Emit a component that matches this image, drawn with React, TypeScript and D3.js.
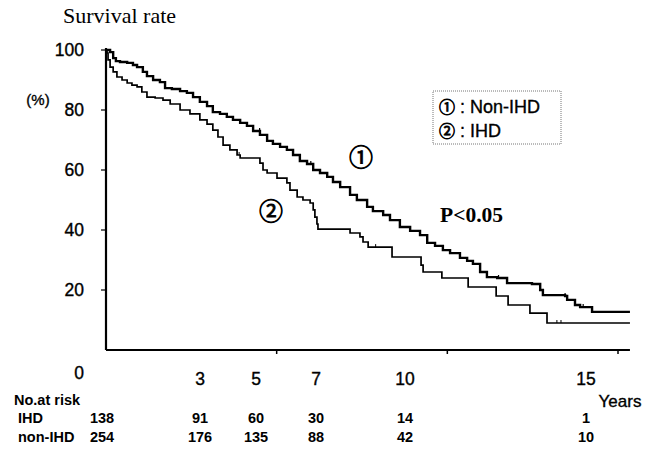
import React from "react";
import * as d3 from "d3";

// Kaplan–Meier step points (years, survival %)
const nonIhdTimes = [0, 0.12, 0.21, 0.29, 0.41, 0.62, 0.79, 0.91, 1.08, 1.2, 1.38, 1.58, 1.73, 1.93, 2.17, 2.37, 2.55, 2.75, 2.96, 3.13, 3.34, 3.54, 3.72, 3.93, 4.13, 4.31, 4.51, 4.72, 4.89, 5.1, 5.3, 5.48, 5.68, 5.89, 6.07, 6.27, 6.48, 6.65, 6.86, 7.15, 7.35, 7.65, 7.82, 8.12, 8.32, 8.61, 8.91, 9.2, 9.41, 9.64, 9.87, 10.08, 10.37, 10.58, 10.75, 10.96, 11.16, 11.46, 11.75, 12.48, 12.72, 12.8, 13.45, 13.51, 13.74, 13.89, 14.24, 15.35];
const nonIhdSurv = [100, 99.3, 97.3, 96.3, 96, 95.7, 95, 94.3, 92.7, 91.3, 90, 89.3, 87.3, 87, 86.3, 85.7, 84.3, 82.7, 81.3, 79.3, 78.7, 77.7, 76.7, 75.7, 74.7, 73, 71.7, 69.7, 68.7, 67.7, 66.7, 65, 63, 62, 60, 59, 57.7, 56, 54.3, 51.7, 50, 47.7, 46.3, 45, 43.3, 41, 39.7, 38.3, 35.7, 34.7, 33.3, 32.3, 30.7, 29.7, 28.7, 26, 24.3, 24, 22.3, 22, 20, 18.3, 18, 16.7, 15, 14.3, 12.7, 12.7];

const ihdTimes = [0, 0.03, 0.06, 0.12, 0.21, 0.32, 0.47, 0.62, 0.76, 0.91, 1.05, 1.2, 1.44, 1.67, 1.88, 2.17, 2.46, 2.75, 2.96, 3.13, 3.28, 3.43, 3.63, 3.84, 3.93, 4.51, 4.6, 4.72, 5.01, 5.3, 5.39, 5.6, 5.77, 5.98, 6.07, 6.12, 6.18, 6.21, 7.15, 7.44, 7.53, 7.68, 8.38, 9.23, 9.29, 9.84, 10.61, 11.43, 11.78, 12.42, 12.92, 15.35];
const ihdSurv = [100, 99, 96.7, 94.3, 92.7, 91, 90, 89, 88.3, 87.7, 86, 84.3, 84, 83.3, 82, 80, 78.7, 76.7, 75.3, 73.3, 71, 68.3, 66.7, 65, 64, 62.3, 60, 59, 57.3, 55.7, 53.3, 51, 50, 49, 46.7, 44.3, 42, 40.3, 39, 37.7, 36, 34.3, 31, 28.3, 26, 24, 21, 18, 15, 12.3, 9, 9];

const nonIhdCensor = [4.5, 6.0, 11.5, 13.45, 13.98];
const ihdCensor = [3.9, 7.9, 13.21, 13.33];

const yTicks = [20, 40, 60, 80, 100];
const xTicks = [5, 10, 15];
const labelYears = [3, 5, 7, 10, 15];
const riskYears = [0, 3, 5, 7, 10, 15];
const riskIHD = [138, 91, 60, 30, 14, 1];
const riskNonIHD = [254, 176, 135, 88, 42, 10];

const sans = "'Liberation Sans', Arial, Helvetica, sans-serif";
const serif = "'Liberation Serif', 'Times New Roman', serif";
const circ = "'Noto Sans CJK JP', 'DejaVu Sans', sans-serif";

function stepAt(times: number[], surv: number[], t: number) {
  let v = surv[0];
  for (let i = 0; i < times.length; i++) if (times[i] <= t) v = surv[i];
  return v;
}

export default function App() {
  const x = d3.scaleLinear().domain([0, 15]).range([106, 618]);
  const y = d3.scaleLinear().domain([0, 100]).range([350, 50]);
  // column positions for the label row and the number-at-risk table
  const col = d3.scaleLinear().domain([0, 3, 5, 7, 10, 15]).range([102, 200, 256, 316, 405, 586]);

  const line = d3
    .line<[number, number]>()
    .x((d) => x(d[0]))
    .y((d) => y(d[1]))
    .curve(d3.curveStepAfter);

  const upper = line(nonIhdTimes.map((t, i) => [t, nonIhdSurv[i]] as [number, number])) || "";
  const lower = line(ihdTimes.map((t, i) => [t, ihdSurv[i]] as [number, number])) || "";
  const xEnd = x(15.35);
  const ink = "#000";
  const heavy = { stroke: ink, strokeWidth: 0.35 };

  return (
    <svg width={649} height={450} style={{ position: "absolute", left: 0, top: 0, background: "#fff" }}>
      <rect width={649} height={450} fill="#fff" />
      <text x={63} y={23} fontFamily={serif} fontSize={22} fill={ink}>Survival rate</text>

      {/* y axis */}
      <line x1={x(0)} x2={x(0)} y1={y(100) - 2} y2={y(0)} stroke={ink} strokeWidth={2.2} />
      {yTicks.map((v) => (
        <g key={v}>
          <line x1={x(0) - 5} x2={x(0)} y1={y(v)} y2={y(v)} stroke={ink} strokeWidth={1.2} />
          <text x={84} y={y(v)} dy="0.36em" textAnchor="end" fontFamily={sans} fontSize={17.5} fill={ink} {...heavy}>{v}</text>
        </g>
      ))}
      <text x={84} y={y(0) + 23} dy="0.36em" textAnchor="end" fontFamily={sans} fontSize={17.5} fill={ink} {...heavy}>0</text>
      <text x={38} y={100} dy="0.36em" textAnchor="middle" fontFamily={sans} fontSize={15} fill={ink} {...heavy}>(%)</text>

      {/* x axis */}
      <line x1={x(0)} x2={xEnd} y1={y(0)} y2={y(0)} stroke={ink} strokeWidth={2.2} />
      {xTicks.map((v) => (
        <line key={v} x1={x(v)} x2={x(v)} y1={y(0)} y2={y(0) + 4} stroke={ink} strokeWidth={1.5} />
      ))}
      {labelYears.map((v) => (
        <text key={v} x={col(v)} y={379} dy="0.36em" textAnchor="middle" fontFamily={sans} fontSize={17.5} fill={ink} {...heavy}>{v}</text>
      ))}
      <text x={620} y={407} textAnchor="middle" fontFamily={sans} fontSize={17} fill={ink} {...heavy}>Years</text>

      {/* curves */}
      <path d={upper} fill="none" stroke={ink} strokeWidth={2.4} />
      <path d={lower} fill="none" stroke={ink} strokeWidth={1.7} />
      {nonIhdCensor.map((t) => (
        <line key={"u" + t} x1={x(t)} x2={x(t)} y1={y(stepAt(nonIhdTimes, nonIhdSurv, t))} y2={y(stepAt(nonIhdTimes, nonIhdSurv, t)) - 3} stroke={ink} strokeWidth={1.2} />
      ))}
      {ihdCensor.map((t) => (
        <line key={"l" + t} x1={x(t)} x2={x(t)} y1={y(stepAt(ihdTimes, ihdSurv, t))} y2={y(stepAt(ihdTimes, ihdSurv, t)) - 3} stroke={ink} strokeWidth={1} />
      ))}

      {/* curve labels */}
      <text x={361} y={157} dy="0.36em" textAnchor="middle" fontFamily={circ} fontSize={24} fill={ink} stroke={ink} strokeWidth={0.8}>①</text>
      <text x={271} y={211} dy="0.36em" textAnchor="middle" fontFamily={circ} fontSize={24} fill={ink} stroke={ink} strokeWidth={0.8}>②</text>
      <text x={440} y={222} fontFamily={serif} fontWeight="bold" fontSize={21.5} fill={ink}>P&lt;0.05</text>

      {/* legend */}
      <rect x={433} y={91} width={128} height={53} fill="none" stroke="#777" strokeWidth={1} strokeDasharray="1,1" />
      <text x={439} y={107} dy="0.36em" fontFamily={sans} fontSize={18} fill={ink} {...heavy}>
        <tspan fontFamily={circ} fontSize={16} strokeWidth={0.8}>①</tspan>
        <tspan> : Non-IHD</tspan>
      </text>
      <text x={439} y={131} dy="0.36em" fontFamily={sans} fontSize={18} fill={ink} {...heavy}>
        <tspan fontFamily={circ} fontSize={16} strokeWidth={0.8}>②</tspan>
        <tspan> : IHD</tspan>
      </text>

      {/* number at risk */}
      <text x={14} y={405} fontFamily={sans} fontWeight="bold" fontSize={14.5} fill={ink}>No.at risk</text>
      <text x={18} y={423} fontFamily={sans} fontWeight="bold" fontSize={14.5} fill={ink}>IHD</text>
      <text x={18} y={442} fontFamily={sans} fontWeight="bold" fontSize={14.5} fill={ink}>non-IHD</text>
      {riskYears.map((t, i) => (
        <g key={t}>
          <text x={col(t)} y={423} textAnchor="middle" fontFamily={sans} fontWeight="bold" fontSize={14.5} fill={ink}>{riskIHD[i]}</text>
          <text x={col(t)} y={442} textAnchor="middle" fontFamily={sans} fontWeight="bold" fontSize={14.5} fill={ink}>{riskNonIHD[i]}</text>
        </g>
      ))}
    </svg>
  );
}
